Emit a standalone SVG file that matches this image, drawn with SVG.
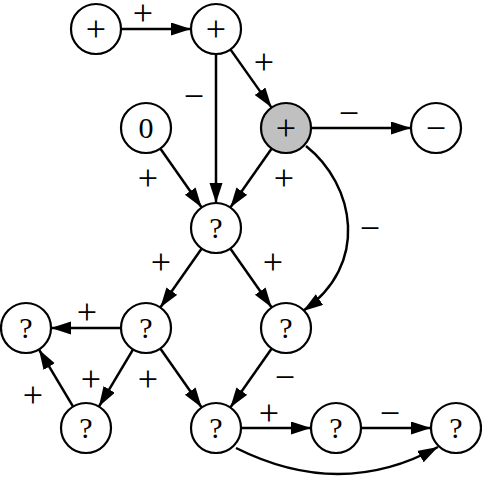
<svg xmlns="http://www.w3.org/2000/svg" width="482" height="488" viewBox="0 0 482 488">
<style>
.n circle{fill:#fff;stroke:#000;stroke-width:2.2}
.n.g circle{fill:#c0c0c0}
text{font-family:"Liberation Serif","DejaVu Serif",serif;font-size:30px;text-anchor:middle;fill:#000}
text.s{font-size:36px}
.e path,.e line{stroke:#000;stroke-width:2.5;fill:none;marker-end:url(#ah)}
</style>
<defs>
<marker id="ah" markerUnits="userSpaceOnUse" markerWidth="22" markerHeight="14" refX="20" refY="6.5" orient="auto">
<path d="M0,0 L20,6.5 L0,13 z" fill="#000"/>
</marker>
</defs>
<g id="connectors" class="e">
<line x1="121" y1="29" x2="191" y2="29"/>
<line x1="216" y1="54" x2="216" y2="203"/>
<line x1="230.4" y1="49.4" x2="271.6" y2="107.6"/>
<line x1="311" y1="128" x2="411" y2="128"/>
<line x1="160.3" y1="148.5" x2="201.7" y2="207.5"/>
<line x1="271.7" y1="148.5" x2="230.3" y2="207.5"/>
<path d="M306,146 C355,185 370,265 303,311"/>
<line x1="201.7" y1="248.5" x2="160.3" y2="307.5"/>
<line x1="230.3" y1="248.5" x2="271.7" y2="307.5"/>
<line x1="121" y1="328" x2="51" y2="328"/>
<line x1="133.1" y1="349.4" x2="98.9" y2="406.6"/>
<line x1="73.1" y1="406.6" x2="38.9" y2="349.4"/>
<line x1="160.3" y1="348.5" x2="201.7" y2="407.5"/>
<line x1="271.7" y1="348.5" x2="230.3" y2="407.5"/>
<line x1="241" y1="428" x2="311" y2="428"/>
<line x1="361" y1="428" x2="431" y2="428"/>
<path d="M236,448 C290,475 360,490 438,447"/>
</g>
<g id="labels">
<text class="s" x="143" y="25">+</text>
<text class="s" x="264" y="74">+</text>
<text class="s" x="194" y="108">−</text>
<text class="s" x="349" y="125">−</text>
<text class="s" x="148" y="190">+</text>
<text class="s" x="284" y="190">+</text>
<text class="s" x="370" y="240">−</text>
<text class="s" x="161" y="274">+</text>
<text class="s" x="273" y="274">+</text>
<text class="s" x="87" y="324">+</text>
<text class="s" x="91" y="391">+</text>
<text class="s" x="33" y="407">+</text>
<text class="s" x="148" y="391">+</text>
<text class="s" x="285" y="389">−</text>
<text class="s" x="269" y="425">+</text>
<text class="s" x="390" y="425">−</text>
</g>
<g id="nA" class="n"><circle cx="96" cy="29" r="25"/><text class="s" x="96" y="41">+</text></g>
<g id="nB" class="n"><circle cx="216" cy="29" r="25"/><text class="s" x="216" y="41">+</text></g>
<g id="nC" class="n"><circle cx="146" cy="128" r="25"/><text x="146" y="138">0</text></g>
<g id="nD" class="n g"><circle cx="286" cy="128" r="25"/><text class="s" x="286" y="140">+</text></g>
<g id="nE" class="n"><circle cx="436" cy="128" r="25"/><text class="s" x="436" y="140">−</text></g>
<g id="nF" class="n"><circle cx="216" cy="228" r="25"/><text x="216" y="238">?</text></g>
<g id="nG" class="n"><circle cx="26" cy="328" r="25"/><text x="26" y="338">?</text></g>
<g id="nH" class="n"><circle cx="146" cy="328" r="25"/><text x="146" y="338">?</text></g>
<g id="nI" class="n"><circle cx="286" cy="328" r="25"/><text x="286" y="338">?</text></g>
<g id="nJ" class="n"><circle cx="86" cy="428" r="25"/><text x="86" y="438">?</text></g>
<g id="nK" class="n"><circle cx="216" cy="428" r="25"/><text x="216" y="438">?</text></g>
<g id="nL" class="n"><circle cx="336" cy="428" r="25"/><text x="336" y="438">?</text></g>
<g id="nM" class="n"><circle cx="456" cy="428" r="25"/><text x="456" y="438">?</text></g>
</svg>
